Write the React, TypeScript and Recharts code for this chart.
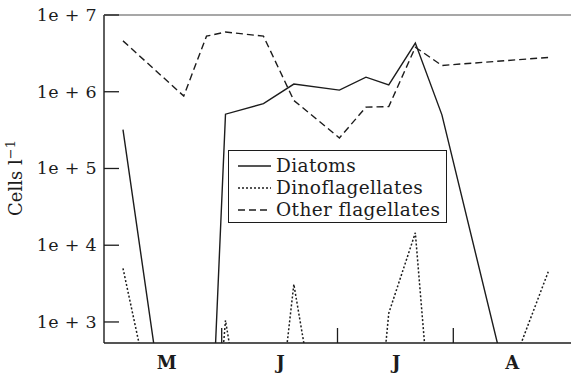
import React from "react";
import { Legend, Line, LineChart, XAxis, YAxis } from "recharts";

// sampling day, counted from 1 May
const days = [5, 21, 27, 32, 42, 50, 62, 69, 75, 82, 89, 117];
const diatoms = [3.2e5, 1, 1, 5.1e5, 7.0e5, 1.26e6, 1.05e6, 1.55e6, 1.23e6, 4.3e6, 5.0e5, 1];
const dinoflagellates = [5000, 1, 1, 1050, 1, 3100, 1, 1, 1300, 14500, 1, 4500];
const otherFlagellates = [4.6e6, 8.8e5, 5.3e6, 6.0e6, 5.3e6, 7.7e5, 2.5e5, 6.3e5, 6.4e5, 3.8e6, 2.2e6, 2.8e6];

const monthCenters = [16.5, 46.5, 77, 107.5];
const monthLabels = ["M", "J", "J", "A"];
const monthBounds = [31, 61.5, 92];
const yTicks = [1e3, 1e4, 1e5, 1e6, 1e7];
const yTickLabels = ["1e + 3", "1e + 4", "1e + 5", "1e + 6", "1e + 7"];

const series = [
  { key: "diatoms", name: "Diatoms", dash: undefined as string | undefined, width: 1.4 },
  { key: "dino", name: "Dinoflagellates", dash: "2 2", width: 1.5 },
  { key: "other", name: "Other flagellates", dash: "7 4", width: 1.4 },
];

const data = days.map((d, i) => ({
  day: d,
  diatoms: diatoms[i],
  dino: dinoflagellates[i],
  other: otherFlagellates[i],
}));

const FONT = "'DejaVu Serif', serif";
const INK = "#1c1c1c";

const XTick = (props: any) => {
  const { x, y, payload } = props;
  const v = payload.value;
  if (monthBounds.includes(v)) {
    return <line x1={x} x2={x} y1={y} y2={y - 15} stroke={INK} strokeWidth={1.3} />;
  }
  const idx = monthCenters.indexOf(v);
  return (
    <text
      x={x}
      y={y + 26}
      textAnchor="middle"
      fontFamily={FONT}
      fontSize={18}
      fontWeight="bold"
      fill={INK}
    >
      {monthLabels[idx]}
    </text>
  );
};

const YTick = (props: any) => {
  const { x, y, payload } = props;
  const idx = yTicks.indexOf(payload.value);
  return (
    <g>
      {payload.value === 1e7 && (
        <line x1={x} x2={571} y1={y} y2={y} stroke="#8a8a8a" strokeWidth={1.5} />
      )}
      <line x1={x} x2={x + 15} y1={y} y2={y} stroke={INK} strokeWidth={1.3} />
      <text
        x={x - 7}
        y={y + 6}
        textAnchor="end"
        fontFamily={FONT}
        fontSize={17.5}
        letterSpacing={0.3}
        fill={INK}
      >
        {yTickLabels[idx]}
      </text>
    </g>
  );
};

const YLabel = () => (
  <text
    x={22}
    y={178}
    transform="rotate(-90, 22, 178)"
    textAnchor="middle"
    fontFamily={FONT}
    fontSize={18}
    fill={INK}
  >
    Cells l
    <tspan dy={-7} fontSize={13}>
      −1
    </tspan>
  </text>
);

const LegendBox = () => (
  <div
    style={{
      width: 219,
      height: 73,
      boxSizing: "border-box",
      border: `1px solid ${INK}`,
      background: "#fff",
      padding: "4px 0 0 9px",
      fontFamily: FONT,
      fontSize: 18.5,
      letterSpacing: 0.4,
      color: INK,
      lineHeight: "22px",
    }}
  >
    {series.map((s) => (
      <div key={s.key} style={{ display: "flex", alignItems: "center", height: 22 }}>
        <svg width={33} height={10} style={{ marginRight: 5 }}>
          <line
            x1={0}
            x2={33}
            y1={5}
            y2={5}
            stroke={INK}
            strokeWidth={s.width}
            strokeDasharray={s.dash}
          />
        </svg>
        <span>{s.name}</span>
      </div>
    ))}
  </div>
);

export default function App() {
  return (
    <div>
      <style>{`body{margin:0;overflow:hidden;background:#fff}`}</style>
      <LineChart
        width={571}
        height={373}
        data={data}
        margin={{ top: 15, right: 0, left: 0, bottom: 0 }}
      >
        <XAxis
          dataKey="day"
          type="number"
          domain={[0, 123]}
          ticks={[...monthCenters, ...monthBounds].sort((a, b) => a - b)}
          interval={0}
          height={30}
          tickSize={0}
          tickMargin={0}
          tickLine={false}
          tick={<XTick />}
          stroke={INK}
          strokeWidth={1.4}
          allowDataOverflow
        />
        <YAxis
          type="number"
          scale="log"
          domain={[532, 1e7]}
          ticks={yTicks}
          interval={0}
          width={104}
          tickSize={0}
          tickMargin={0}
          tickLine={false}
          tick={<YTick />}
          stroke={INK}
          strokeWidth={1.4}
          allowDataOverflow
          label={{ content: <YLabel /> }}
        />
        <Legend
          layout="vertical"
          align="center"
          verticalAlign="middle"
          wrapperStyle={{ left: 228, top: 150, width: 219, height: 73 }}
          content={<LegendBox />}
        />
        {series.map((s) => (
          <Line
            key={s.key}
            dataKey={s.key}
            name={s.name}
            type="linear"
            stroke={INK}
            strokeWidth={s.width}
            strokeDasharray={s.dash}
            dot={false}
            activeDot={false}
            isAnimationActive={false}
          />
        ))}
      </LineChart>
    </div>
  );
}
